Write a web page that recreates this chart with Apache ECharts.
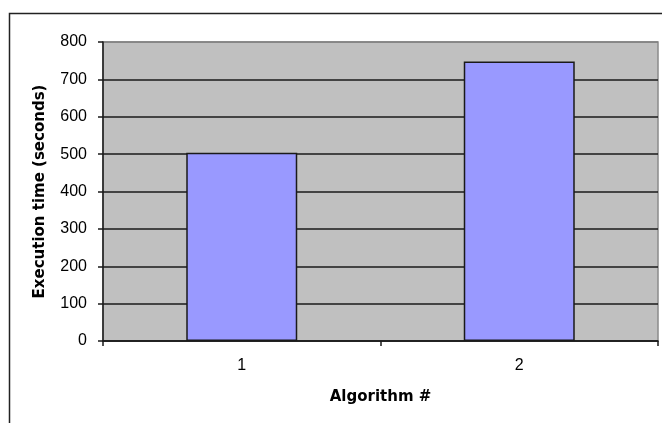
<!DOCTYPE html>
<html>
<head>
<meta charset="utf-8">
<script src="https://cdn.jsdelivr.net/npm/echarts@6/dist/echarts.min.js"></script>
<style>
  html, body { margin: 0; padding: 0; background: #fff; }
  #chart { width: 662px; height: 423px; }
</style>
</head>
<body>
<div id="chart"></div>
<script>
const categories = ['1', '2']
const execTimes = [504, 748]
const yTicks = [0, 100, 200, 300, 400, 500, 600, 700, 800]

const chart = echarts.init(document.getElementById('chart'))

// gridlines black, except the top one which sits on the grey frame
const splitColors = yTicks.map((v, i) => (i === yTicks.length - 1 ? '#808080' : '#1a1a1a'))

const titleFont = { fontSize: 15, fontWeight: 'bold', color: '#000', fontFamily: 'DejaVu Sans' }

const option = {
  animation: false,
  textStyle: { fontFamily: 'Liberation Sans, Arial, sans-serif' },
  graphic: [
    {
      type: 'rect',
      shape: { x: 9.5, y: 13.5, width: 700, height: 500 },
      style: { fill: 'none', stroke: '#222', lineWidth: 1.5 },
      z: -1
    }
  ],
  grid: {
    left: 103,
    right: 4,
    top: 42,
    bottom: 82,
    show: true,
    backgroundColor: '#c0c0c0',
    borderColor: '#8a8a8a',
    borderWidth: 1.5
  },
  xAxis: {
    type: 'category',
    data: categories,
    name: 'Algorithm #',
    nameLocation: 'middle',
    nameGap: 49,
    nameTextStyle: titleFont,
    axisLine: { lineStyle: { color: '#1a1a1a', width: 1.5 } },
    axisTick: { show: true, length: 5, lineStyle: { color: '#1a1a1a', width: 1.5 } },
    axisLabel: { color: '#000', fontSize: 16, margin: 17 },
    splitLine: { show: false }
  },
  yAxis: {
    type: 'value',
    min: 0,
    max: 800,
    interval: 100,
    name: 'Execution time (seconds)',
    nameLocation: 'middle',
    nameGap: 55,
    nameTextStyle: titleFont,
    axisLine: { show: true, lineStyle: { color: '#1a1a1a', width: 1.5 } },
    axisTick: { show: true, length: 5, lineStyle: { color: '#1a1a1a', width: 1.5 } },
    axisLabel: { color: '#000', fontSize: 16, margin: 16 },
    splitLine: { show: true, lineStyle: { color: splitColors, width: 1.5 } }
  },
  series: [
    {
      type: 'bar',
      data: execTimes,
      barWidth: '40%',
      itemStyle: { color: '#9999ff', borderColor: '#1a1a1a', borderWidth: 1.5 }
    }
  ]
}

chart.setOption(option)
</script>
</body>
</html>
